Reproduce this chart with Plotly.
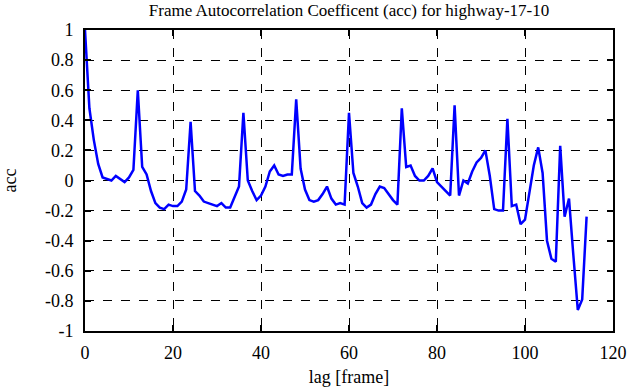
import plotly.graph_objects as go

lag = list(range(0, 115))
acc = [
    1.00, 0.48, 0.27, 0.11, 0.02, 0.01, 0.00, 0.03, 0.01, -0.01,
    0.02, 0.07, 0.60, 0.09, 0.04, -0.07, -0.15, -0.18, -0.19, -0.16,
    -0.17, -0.17, -0.14, -0.06, 0.39, -0.07, -0.10, -0.14, -0.15, -0.16,
    -0.17, -0.15, -0.18, -0.18, -0.11, -0.04, 0.45, 0.00, -0.07, -0.13,
    -0.10, -0.04, 0.06, 0.10, 0.04, 0.03, 0.04, 0.04, 0.54, 0.08,
    -0.06, -0.13, -0.14, -0.13, -0.09, -0.04, -0.12, -0.16, -0.15, -0.16,
    0.45, 0.05, -0.04, -0.15, -0.18, -0.16, -0.09, -0.04, -0.05, -0.09,
    -0.13, -0.16, 0.48, 0.09, 0.10, 0.03, 0.00, 0.00, 0.03, 0.08,
    -0.01, -0.04, -0.07, -0.10, 0.50, -0.10, 0.00, -0.02, 0.06, 0.12,
    0.15, 0.20, 0.03, -0.19, -0.20, -0.20, 0.41, -0.17, -0.16, -0.29,
    -0.26, -0.08, 0.10, 0.22, 0.05, -0.40, -0.52, -0.54, 0.23, -0.24,
    -0.12, -0.50, -0.86, -0.79, -0.24,
]

x_ticks = [0, 20, 40, 60, 80, 100, 120]
y_ticks = [-1, -0.8, -0.6, -0.4, -0.2, 0, 0.2, 0.4, 0.6, 0.8, 1]
y_tick_text = ["-1", "-0.8", "-0.6", "-0.4", "-0.2", "0", "0.2", "0.4", "0.6", "0.8", "1"]

font_family = "'Liberation Serif', 'DejaVu Serif', serif"

fig = go.Figure(
    go.Scatter(
        x=lag, y=acc, mode="lines",
        line=dict(color="#0000ff", width=2.5),
        showlegend=False,
    )
)

axis_common = dict(
    showline=True, linecolor="black", linewidth=2, mirror="ticks",
    ticks="inside", ticklen=6, tickwidth=1.5, tickcolor="black",
    showgrid=True, gridcolor="black", griddash="dash", gridwidth=1,
    zeroline=False, automargin=False,
    tickfont=dict(family=font_family, size=18, color="black"),
)

fig.update_xaxes(
    range=[0, 120], tickvals=x_ticks, ticklabelstandoff=4,
    title=dict(text="lag [frame]", font=dict(family=font_family, size=18, color="black"), standoff=12),
    **axis_common,
)
fig.update_yaxes(
    range=[-1, 1], tickvals=y_ticks, ticktext=y_tick_text, ticklabelstandoff=6,
    title=dict(text="acc", font=dict(family=font_family, size=18, color="black"), standoff=24),
    **axis_common,
)

fig.update_layout(
    width=641, height=387,
    margin=dict(l=85, r=28, t=30, b=56),
    paper_bgcolor="white", plot_bgcolor="white",
    font=dict(family=font_family, color="black"),
    title=dict(
        text="Frame Autocorrelation Coefficent (acc) for highway-17-10",
        x=0.5, xref="paper", y=0.99, yref="container", yanchor="top",
        font=dict(family=font_family, size=17, color="black"),
    ),
)

fig.write_html(
    "out.html",
    config={"displayModeBar": False},
    post_script="document.body.style.margin='0';",
)
